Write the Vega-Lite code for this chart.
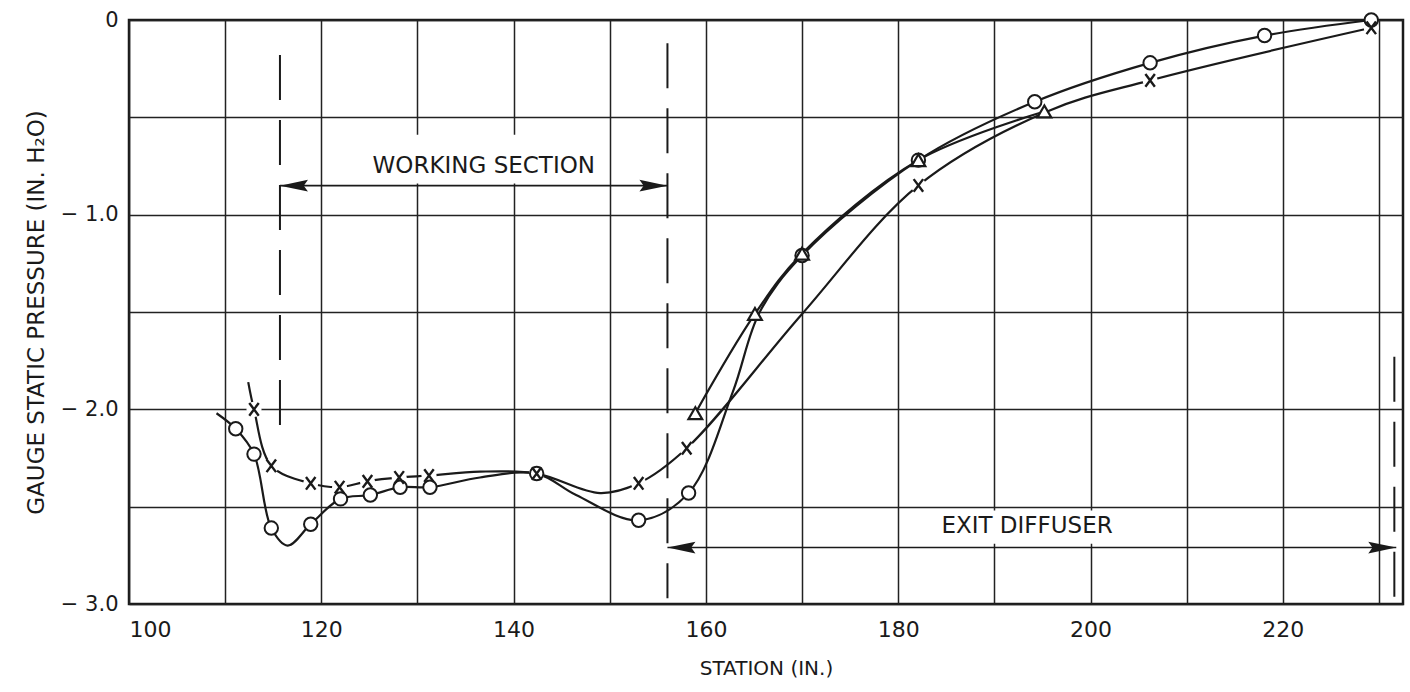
{
  "$schema": "https://vega.github.io/schema/vega-lite/v6.json",
  "autosize": {"type": "none"},
  "padding": {"left": 129, "top": 20, "right": 7, "bottom": 88},
  "width": 1274,
  "height": 584,
  "background": "white",
  "config": {
    "view": {"stroke": "#1a1a1a", "strokeWidth": 2.5},
    "font": "DejaVu Sans",
    "axis": {
      "gridColor": "#222",
      "gridWidth": 1.5,
      "gridOpacity": 1,
      "ticks": false,
      "domain": false,
      "labelFont": "DejaVu Sans",
      "labelColor": "#1a1a1a",
      "labelFontSize": 20,
      "titleFont": "DejaVu Sans",
      "titleColor": "#1a1a1a",
      "titleFontWeight": "normal"
    }
  },
  "datasets": {
    "curves": [
      {"series": "O", "station": 109.1, "pressure": -2.02, "marked": false},
      {"series": "O", "station": 111.1, "pressure": -2.10, "marked": true},
      {"series": "O", "station": 113.0, "pressure": -2.23, "marked": true},
      {"series": "O", "station": 114.8, "pressure": -2.61, "marked": true},
      {"series": "O", "station": 116.5, "pressure": -2.70, "marked": false},
      {"series": "O", "station": 118.9, "pressure": -2.59, "marked": true},
      {"series": "O", "station": 122.0, "pressure": -2.46, "marked": true},
      {"series": "O", "station": 125.1, "pressure": -2.44, "marked": true},
      {"series": "O", "station": 128.2, "pressure": -2.40, "marked": true},
      {"series": "O", "station": 131.3, "pressure": -2.40, "marked": true},
      {"series": "O", "station": 136.5, "pressure": -2.35, "marked": false},
      {"series": "O", "station": 142.4, "pressure": -2.33, "marked": true},
      {"series": "O", "station": 146.5, "pressure": -2.44, "marked": false},
      {"series": "O", "station": 153.0, "pressure": -2.57, "marked": true},
      {"series": "O", "station": 158.2, "pressure": -2.43, "marked": true},
      {"series": "O", "station": 162.8, "pressure": -1.91, "marked": false},
      {"series": "O", "station": 165.6, "pressure": -1.50, "marked": false},
      {"series": "O", "station": 170.0, "pressure": -1.21, "marked": true},
      {"series": "O", "station": 182.1, "pressure": -0.72, "marked": true},
      {"series": "O", "station": 194.2, "pressure": -0.42, "marked": true},
      {"series": "O", "station": 206.2, "pressure": -0.22, "marked": true},
      {"series": "O", "station": 218.1, "pressure": -0.08, "marked": true},
      {"series": "O", "station": 229.2, "pressure": 0.0, "marked": true},
      {"series": "X", "station": 112.4, "pressure": -1.86, "marked": false},
      {"series": "X", "station": 113.0, "pressure": -2.00, "marked": true},
      {"series": "X", "station": 114.8, "pressure": -2.29, "marked": true},
      {"series": "X", "station": 118.9, "pressure": -2.38, "marked": true},
      {"series": "X", "station": 121.9, "pressure": -2.40, "marked": true},
      {"series": "X", "station": 124.8, "pressure": -2.37, "marked": true},
      {"series": "X", "station": 128.1, "pressure": -2.35, "marked": true},
      {"series": "X", "station": 131.2, "pressure": -2.34, "marked": true},
      {"series": "X", "station": 136.5, "pressure": -2.32, "marked": false},
      {"series": "X", "station": 142.4, "pressure": -2.33, "marked": true},
      {"series": "X", "station": 149.0, "pressure": -2.43, "marked": false},
      {"series": "X", "station": 153.0, "pressure": -2.38, "marked": true},
      {"series": "X", "station": 158.0, "pressure": -2.20, "marked": true},
      {"series": "X", "station": 170.0, "pressure": -1.51, "marked": false},
      {"series": "X", "station": 182.1, "pressure": -0.85, "marked": true},
      {"series": "X", "station": 195.5, "pressure": -0.47, "marked": false},
      {"series": "X", "station": 206.2, "pressure": -0.31, "marked": true},
      {"series": "X", "station": 229.2, "pressure": -0.04, "marked": true},
      {"series": "T", "station": 158.9, "pressure": -2.02, "marked": true},
      {"series": "T", "station": 165.1, "pressure": -1.51, "marked": true},
      {"series": "T", "station": 170.0, "pressure": -1.20, "marked": true},
      {"series": "T", "station": 182.1, "pressure": -0.72, "marked": true},
      {"series": "T", "station": 195.2, "pressure": -0.47, "marked": true}
    ],
    "boxes": [
      {"x": 123.8, "x2": 149.4, "y": -0.59, "y2": -0.84},
      {"x": 183.0, "x2": 203.8, "y": -2.52, "y2": -2.69}
    ],
    "vlines": [
      {"x": 115.7, "y": -0.18, "y2": -2.09},
      {"x": 156.0, "y": -0.12, "y2": -2.97},
      {"x": 231.6, "y": -1.73, "y2": -3.0}
    ],
    "hlines": [
      {"x": 115.7, "x2": 156.0, "y": -0.851},
      {"x": 156.0, "x2": 231.8, "y": -2.71}
    ],
    "heads": [
      {"x": 115.7, "y": -0.851, "dir": "left"},
      {"x": 156.0, "y": -0.851, "dir": "right"},
      {"x": 156.0, "y": -2.71, "dir": "left"},
      {"x": 231.8, "y": -2.71, "dir": "right"}
    ],
    "labels": [
      {"x": 136.9, "y": -0.749, "text": "WORKING SECTION"},
      {"x": 193.4, "y": -2.60, "text": "EXIT DIFFUSER"}
    ]
  },
  "layer": [
    {
      "data": {"name": "boxes"},
      "mark": {"type": "rect", "fill": "white", "stroke": null},
      "encoding": {
        "x": {
          "field": "x", "type": "quantitative",
          "scale": {"domain": [100, 232.5], "nice": false, "zero": false},
          "axis": {
            "values": [100, 110, 120, 130, 140, 150, 160, 170, 180, 190, 200, 210, 220, 230],
            "labelExpr": "datum.value % 20 == 0 && datum.value < 230 ? datum.label : ''",
            "grid": true,
            "labelPadding": 15,
            "labelFontSize": 22,
            "title": "STATION (IN.)",
            "titleFontSize": 20,
            "titlePadding": 18
          }
        },
        "x2": {"field": "x2"},
        "y": {
          "field": "y", "type": "quantitative",
          "scale": {"domain": [-3, 0], "nice": false, "zero": false},
          "axis": {
            "values": [0, -0.5, -1, -1.5, -2, -2.5, -3],
            "labelExpr": "datum.value == 0 ? '0' : (datum.value % 1 == 0 ? '\u2212 ' + format(-datum.value, '.1f') : '')",
            "grid": true,
            "labelPadding": 11,
            "labelFontSize": 21,
            "title": "GAUGE STATIC PRESSURE (IN. H\u2082O)",
            "titleFontSize": 23,
            "titlePadding": 12
          }
        },
        "y2": {"field": "y2"}
      }
    },
    {
      "data": {"name": "vlines"},
      "mark": {"type": "rule", "stroke": "#1a1a1a", "strokeWidth": 2, "strokeDash": [45, 20]},
      "encoding": {
        "x": {"field": "x", "type": "quantitative"},
        "y": {"field": "y", "type": "quantitative"},
        "y2": {"field": "y2"}
      }
    },
    {
      "data": {"name": "hlines"},
      "mark": {"type": "rule", "stroke": "#1a1a1a", "strokeWidth": 1.6},
      "encoding": {
        "x": {"field": "x", "type": "quantitative"},
        "x2": {"field": "x2"},
        "y": {"field": "y", "type": "quantitative"}
      }
    },
    {
      "data": {"name": "heads"},
      "mark": {"type": "point", "filled": true, "color": "#1a1a1a", "size": 784, "opacity": 1},
      "encoding": {
        "x": {"field": "x", "type": "quantitative"},
        "y": {"field": "y", "type": "quantitative"},
        "shape": {
          "field": "dir", "type": "nominal",
          "scale": {"domain": ["left", "right"], "range": ["M0,0L2,-0.42L1.7,0L2,0.42Z", "M0,0L-2,-0.42L-1.7,0L-2,0.42Z"]},
          "legend": null
        }
      }
    },
    {
      "data": {"name": "labels"},
      "mark": {"type": "text", "font": "DejaVu Sans", "fontSize": 23, "color": "#1a1a1a", "align": "center", "baseline": "middle"},
      "encoding": {
        "x": {"field": "x", "type": "quantitative"},
        "y": {"field": "y", "type": "quantitative"},
        "text": {"field": "text", "type": "nominal"}
      }
    },
    {
      "data": {"name": "curves"},
      "mark": {"type": "line", "interpolate": "catmull-rom", "stroke": "#1a1a1a", "strokeWidth": 2.2},
      "encoding": {
        "x": {"field": "station", "type": "quantitative"},
        "y": {"field": "pressure", "type": "quantitative"},
        "detail": {"field": "series", "type": "nominal"}
      }
    },
    {
      "data": {"name": "curves"},
      "transform": [{"filter": "datum.marked && datum.series == 'X'"}],
      "mark": {"type": "point", "shape": "circle", "filled": true, "color": "white", "size": 230, "opacity": 1},
      "encoding": {
        "x": {"field": "station", "type": "quantitative"},
        "y": {"field": "pressure", "type": "quantitative"}
      }
    },
    {
      "data": {"name": "curves"},
      "transform": [{"filter": "datum.marked && datum.series == 'O'"}],
      "mark": {"type": "point", "shape": "circle", "fill": "white", "fillOpacity": 1, "stroke": "#1a1a1a", "strokeWidth": 2, "size": 180, "opacity": 1},
      "encoding": {
        "x": {"field": "station", "type": "quantitative"},
        "y": {"field": "pressure", "type": "quantitative"}
      }
    },
    {
      "data": {"name": "curves"},
      "transform": [{"filter": "datum.marked && datum.series == 'T'"}],
      "mark": {"type": "point", "shape": "triangle-up", "fill": "white", "fillOpacity": 1, "stroke": "#1a1a1a", "strokeWidth": 2.2, "size": 190, "opacity": 1},
      "encoding": {
        "x": {"field": "station", "type": "quantitative"},
        "y": {"field": "pressure", "type": "quantitative"}
      }
    },
    {
      "data": {"name": "curves"},
      "transform": [{"filter": "datum.marked && datum.series == 'X'"}],
      "mark": {"type": "point", "shape": "M-0.75,-1L0.75,1M-0.75,1L0.75,-1", "filled": false, "stroke": "#1a1a1a", "strokeWidth": 2.4, "size": 160, "opacity": 1},
      "encoding": {
        "x": {"field": "station", "type": "quantitative"},
        "y": {"field": "pressure", "type": "quantitative"}
      }
    }
  ]
}
